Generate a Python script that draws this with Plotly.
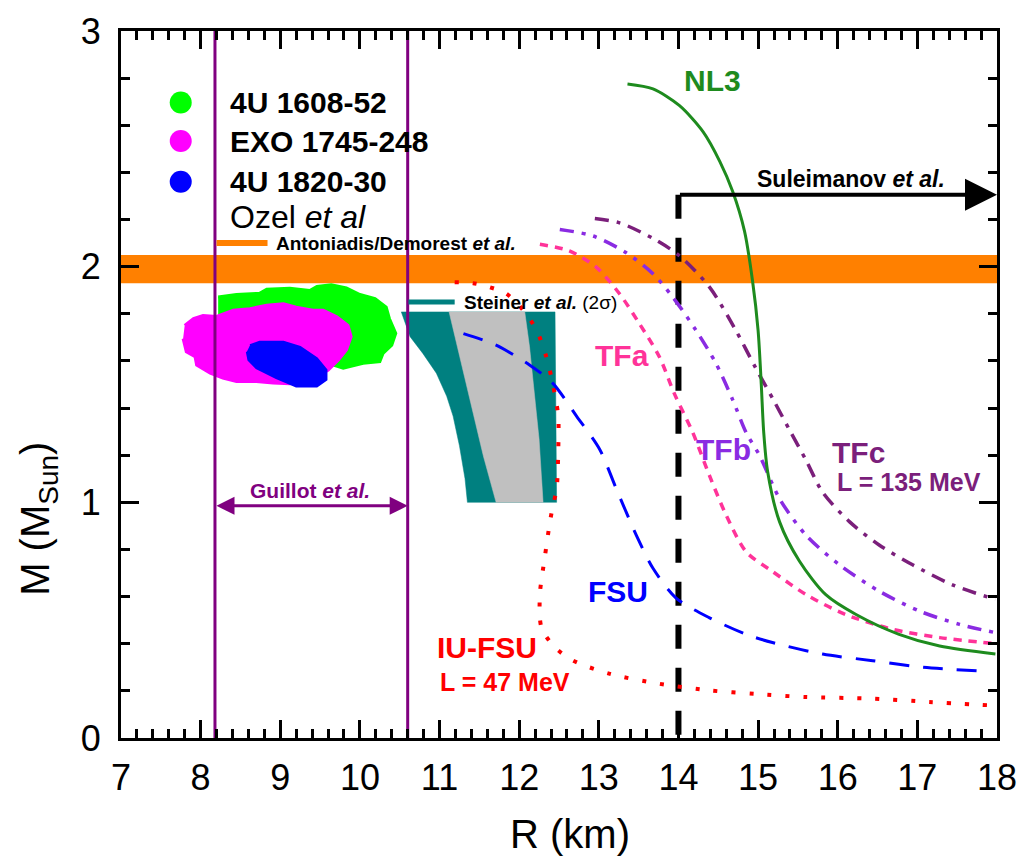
import plotly.graph_objects as go

# ---------------- data ----------------
nl3_r = [13.36, 13.68, 14.01, 14.31, 14.52, 14.68, 14.83, 14.93, 15.0, 15.04, 15.07, 15.12, 15.27, 15.52, 15.85, 16.23, 16.77, 17.28, 17.98]
nl3_m = [2.775, 2.754, 2.684, 2.572, 2.446, 2.32, 2.15, 1.94, 1.73, 1.5, 1.3, 1.13, 0.917, 0.75, 0.608, 0.524, 0.44, 0.39, 0.356]

tfc_r = [12.95, 13.26, 13.68, 14.01, 14.39, 14.72, 14.97, 15.2, 15.39, 15.6, 15.81, 16.15, 16.52, 16.94, 17.44, 17.98]
tfc_m = [2.204, 2.186, 2.12, 2.047, 1.913, 1.73, 1.57, 1.43, 1.31, 1.18, 1.043, 0.917, 0.819, 0.735, 0.65, 0.588]

tfb_r = [12.51, 12.93, 13.34, 13.68, 13.93, 14.22, 14.47, 14.68, 14.85, 15.02, 15.27, 15.6, 16.02, 16.52, 17.03, 17.53, 17.98]
tfb_m = [2.158, 2.13, 2.06, 1.97, 1.87, 1.73, 1.59, 1.436, 1.296, 1.198, 1.015, 0.861, 0.735, 0.623, 0.538, 0.482, 0.447]

tfa_r = [12.26, 12.63, 12.97, 13.26, 13.51, 13.76, 13.95, 14.18, 14.39, 14.6, 14.85, 15.18, 15.6, 16.1, 16.69, 17.28, 17.98]
tfa_m = [2.095, 2.067, 1.997, 1.885, 1.758, 1.618, 1.46, 1.296, 1.113, 0.945, 0.79, 0.707, 0.609, 0.524, 0.461, 0.426, 0.40]

fsu_r = [11.3, 11.71, 12.13, 12.42, 12.72, 13.01, 13.22, 13.47, 13.68, 13.97, 14.39, 14.85, 15.18, 15.81, 16.44, 17.07, 17.85]
fsu_m = [1.716, 1.667, 1.583, 1.506, 1.366, 1.225, 1.057, 0.861, 0.72, 0.594, 0.51, 0.44, 0.405, 0.356, 0.328, 0.30, 0.283]

iufsu_r = [11.19, 11.42, 11.63, 11.84, 12.05, 12.22, 12.34, 12.42, 12.49, 12.49, 12.47, 12.42, 12.38, 12.32, 12.26, 12.28, 12.45, 12.68, 13.14, 13.76, 14.39, 14.97, 15.6, 16.44, 17.15, 17.9]
iufsu_m = [1.934, 1.93, 1.913, 1.885, 1.815, 1.73, 1.618, 1.506, 1.366, 1.212, 1.057, 0.98, 0.903, 0.763, 0.609, 0.468, 0.384, 0.328, 0.272, 0.23, 0.202, 0.187, 0.174, 0.167, 0.153, 0.139]

# Steiner et al. (2 sigma) region and inner band
steiner_outer_r = [10.52, 12.45, 12.47, 11.35, 11.32, 11.25, 11.17, 11.09, 10.96, 10.79, 10.63, 10.52]
steiner_outer_m = [1.808, 1.808, 1.0, 1.0, 1.10, 1.24, 1.366, 1.45, 1.548, 1.632, 1.703, 1.808]
steiner_inner_r = [11.12, 12.07, 12.13, 12.19, 12.25, 12.30, 11.71, 11.55, 11.40, 11.25, 11.12]
steiner_inner_m = [1.808, 1.808, 1.66, 1.478, 1.268, 1.0, 1.0, 1.197, 1.408, 1.618, 1.808]

# Ozel et al. contours
green_r = [8.22, 8.45, 8.74, 8.83, 9.12, 9.37, 9.46, 9.64, 9.83, 10.0, 10.19, 10.33, 10.37, 10.45, 10.40, 10.29, 10.25, 10.04, 9.79, 9.5, 8.6, 8.22]
green_m = [1.871, 1.882, 1.887, 1.904, 1.908, 1.899, 1.916, 1.923, 1.91, 1.882, 1.864, 1.828, 1.78, 1.717, 1.667, 1.632, 1.597, 1.59, 1.569, 1.6, 1.7, 1.75]
magenta_r = [7.80, 7.91, 8.03, 8.20, 8.41, 8.62, 8.83, 9.04, 9.20, 9.41, 9.54, 9.71, 9.85, 9.89, 9.83, 9.73, 9.60, 9.33, 9.12, 8.91, 8.70, 8.45, 8.28, 8.12, 7.95, 7.93, 7.82, 7.78]
magenta_m = [1.751, 1.78, 1.793, 1.789, 1.815, 1.822, 1.836, 1.843, 1.828, 1.815, 1.815, 1.787, 1.751, 1.703, 1.646, 1.604, 1.56, 1.513, 1.503, 1.506, 1.513, 1.513, 1.527, 1.548, 1.583, 1.618, 1.639, 1.695]
blue_r = [8.62, 8.74, 9.04, 9.25, 9.46, 9.58, 9.58, 9.46, 9.20, 8.95, 8.70, 8.60, 8.58]
blue_m = [1.667, 1.681, 1.681, 1.66, 1.611, 1.562, 1.52, 1.492, 1.492, 1.527, 1.569, 1.604, 1.639]

# constraints
band_lo, band_hi = 1.93, 2.05          # Antoniadis / Demorest
guillot_r = [8.18, 10.6]
guillot_m = 0.985
suleimanov_r = [14.0, 18.0]
suleimanov_m = 2.305

legend_names = ["4U 1608-52", "EXO 1745-248", "4U 1820-30"]
legend_colors = ["#00FF00", "#FF00FF", "#0000FF"]
legend_m = [2.697, 2.533, 2.36]

x_range = [7, 18]
y_range = [0, 3]
x_ticks = list(range(7, 19))
y_ticks = [0, 1, 2, 3]

FONT = "Arial, Liberation Sans, sans-serif"
PURPLE = "#800080"
TEAL = "#008080"

fig = go.Figure()

def poly(r, m, color, lw=0.5):
    fig.add_trace(go.Scatter(x=r, y=m, mode="lines", fill="toself", fillcolor=color,
                             line=dict(color=color, width=lw), hoverinfo="skip", showlegend=False))

poly(steiner_outer_r, steiner_outer_m, TEAL)
poly(steiner_inner_r, steiner_inner_m, "#C0C0C0")
poly(green_r, green_m, legend_colors[0], 3)
poly(magenta_r, magenta_m, legend_colors[1], 3)
poly(blue_r, blue_m, legend_colors[2], 2)

# Guillot vertical limits
for gx in guillot_r:
    fig.add_trace(go.Scatter(x=[gx, gx], y=y_range, mode="lines",
                             line=dict(color=PURPLE, width=3), showlegend=False, hoverinfo="skip"))

# Suleimanov dashed vertical
fig.add_trace(go.Scatter(x=[suleimanov_r[0], suleimanov_r[0]], y=[suleimanov_m, 0], mode="lines",
                         line=dict(color="black", width=6, dash="24px,19px"), showlegend=False))

def curve(r, m, color, width, dash):
    fig.add_trace(go.Scatter(x=r, y=m, mode="lines",
                             line=dict(color=color, width=width, dash=dash, shape="spline", smoothing=0.8),
                             showlegend=False))

curve(iufsu_r, iufsu_m, "#FF0000", 4, "4px,14px")
curve(fsu_r, fsu_m, "#0000FF", 3, "20px,14px")
curve(tfa_r, tfa_m, "#FF3399", 3.5, "8px,7px")
curve(tfb_r, tfb_m, "#8A2BE2", 3.5, "14px,8px,4px,8px,4px,8px")
curve(tfc_r, tfc_m, "#7B1F7B", 3.5, "14px,8px,4px,8px")
curve(nl3_r, nl3_m, "#1E8B1E", 3, "solid")

# legend markers
fig.add_trace(go.Scatter(x=[7.75] * 3, y=legend_m, mode="markers",
                         marker=dict(size=22, color=legend_colors), showlegend=False))
# legend line segments
fig.add_trace(go.Scatter(x=[8.2, 8.84], y=[2.10, 2.10], mode="lines",
                         line=dict(color="#FF8000", width=6), showlegend=False))
fig.add_trace(go.Scatter(x=[10.61, 11.19], y=[1.85, 1.85], mode="lines",
                         line=dict(color=TEAL, width=5), showlegend=False))

fig.add_shape(type="rect", x0=x_range[0], x1=x_range[1], y0=band_lo, y1=band_hi, xref="x", yref="y",
              fillcolor="#FF8000", line=dict(width=0), layer="below")

ann = []
def text(x, y, s, size, color="black", anchor="center"):
    ann.append(dict(x=x, y=y, xref="x", yref="y", text=s, showarrow=False,
                    xanchor=anchor, yanchor="middle", font=dict(family=FONT, size=size, color=color)))

for name, yy in zip(legend_names, legend_m):
    text(8.34, yy, "<b>%s</b>" % name, 30, anchor="left")
text(8.34, 2.21, "Ozel <i>et al</i>", 32, anchor="left")
text(8.92, 2.10, "<b>Antoniadis/Demorest <i>et al.</i></b>", 19, anchor="left")
text(11.28, 1.85, "<b>Steiner <i>et al.</i></b> (2σ)", 19, anchor="left")
text(14.43, 2.79, "<b>NL3</b>", 30, "#1E8B1E")
text(16.17, 2.37, "<b>Suleimanov <i>et al.</i></b>", 23)
text(13.29, 1.625, "<b>TFa</b>", 30, "#FF3399")
text(14.57, 1.225, "<b>TFb</b>", 30, "#8A2BE2")
text(16.26, 1.21, "<b>TFc</b>", 30, "#7B1F7B")
text(16.9, 1.085, "<b>L = 135 MeV</b>", 25, "#7B1F7B")
text(13.24, 0.62, "<b>FSU</b>", 30, "#0000FF")
text(11.6, 0.384, "<b>IU-FSU</b>", 30, "#FF0000")
text(11.82, 0.237, "<b>L = 47 MeV</b>", 25, "#FF0000")
text(9.37, 1.05, "<b>Guillot <i>et al.</i></b>", 21, PURPLE)

# arrows
ann.append(dict(x=guillot_r[1], y=guillot_m, ax=guillot_r[0], ay=guillot_m, xref="x", yref="y",
                axref="x", ayref="y", text="", showarrow=True, arrowside="end+start",
                arrowhead=2, startarrowhead=2, arrowsize=1.2, startarrowsize=1.2,
                arrowwidth=3, arrowcolor=PURPLE))
ann.append(dict(x=suleimanov_r[1], y=suleimanov_m, ax=suleimanov_r[0], ay=suleimanov_m, xref="x", yref="y",
                axref="x", ayref="y", text="", showarrow=True, arrowhead=2, arrowsize=1.6,
                arrowwidth=4, arrowcolor="black"))

# axis titles
ann.append(dict(x=0.5126, y=-0.136, xref="paper", yref="paper", text="R (km)", showarrow=False,
                xanchor="center", yanchor="middle", font=dict(family=FONT, size=40, color="black")))
ann.append(dict(x=0, y=0.31, xref="paper", yref="paper", xshift=-83, text="M (M<sub>Sun</sub>)",
                showarrow=False, textangle=-90, xanchor="center", yanchor="middle",
                font=dict(family=FONT, size=40, color="black")))

axis_common = dict(showgrid=False, zeroline=False, showline=True, linewidth=3, linecolor="black",
                   mirror="ticks", ticks="inside", ticklen=18, tickwidth=3, tickcolor="black",
                   automargin=False, ticklabeloverflow="allow",
                   tickfont=dict(family=FONT, size=36, color="black"),
                   minor=dict(ticks="inside", ticklen=9, tickwidth=2.5, tickcolor="black", dtick=0.2))

fig.update_layout(
    width=1019, height=868,
    margin=dict(l=121, r=22, t=31, b=130),
    paper_bgcolor="white", plot_bgcolor="white",
    showlegend=False,
    annotations=ann,
    xaxis=dict(range=x_range, tickvals=x_ticks, ticklabelstandoff=6, **axis_common),
    yaxis=dict(range=y_range, tickvals=y_ticks, ticklabelstandoff=10, **axis_common),
)

# remove the browser's default 8px page margin so the figure fills the window exactly
fig.write_html("out.html", config={"displayModeBar": False},
               post_script="document.body.style.margin='0';document.body.style.overflow='hidden';")
